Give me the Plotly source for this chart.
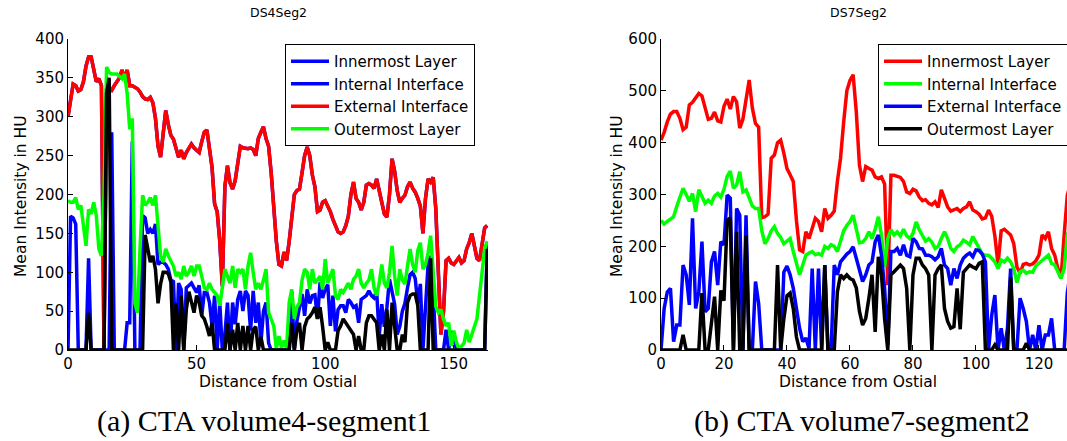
import plotly.graph_objects as go

# ---------------- Left chart: DS4Seg2 (distance 0..163) ----------------
left_x = list(range(0, 164))
left_innermost = [
    0, 172, 170, 162, 0, 0, 0, 0, 118, 0,
    0, 0, 0, 0, 0, 0, 0, 280, 0, 0,
    0, 0, 0, 35, 35, 268, 0, 0, 0, 173,
    170, 150, 155, 150, 162, 110, 113, 113, 110, 104,
    90, 88, 0, 86, 78, 0, 80, 83, 86, 80,
    74, 83, 44, 74, 74, 61, 31, 70, 0, 61,
    0, 20, 61, 0, 61, 33, 65, 76, 50, 76,
    70, 25, 76, 35, 61, 9, 50, 61, 9, 0,
    0, 0, 0, 0, 0, 0, 0, 75, 0, 37,
    52, 72, 44, 78, 60, 70, 71, 40, 87, 67,
    78, 84, 31, 70, 24, 52, 57, 57, 48, 65,
    61, 55, 57, 35, 65, 67, 70, 76, 70, 67,
    76, 18, 59, 30, 55, 91, 75, 59, 20, 30,
    50, 60, 80, 97, 100, 92, 60, 85, 0, 59,
    110, 121, 76, 0, 0, 0, 0, 26, 0, 24,
    18, 0, 0, 0, 0, 0, 0, 0, 0, 0,
    0, 0, 0, 137]
left_external = [
    300, 325, 342, 340, 333, 335, 345, 365, 377, 377,
    360, 345, 349, 340, 0, 335, 336, 334, 340, 345,
    350, 360, 349, 360, 340, 340, 338, 336, 332, 326,
    323, 322, 325, 318, 298, 262, 248, 280, 308, 290,
    276, 271, 260, 248, 257, 246, 254, 260, 265, 260,
    257, 254, 268, 280, 283, 257, 235, 188, 178, 140,
    82, 210, 237, 215, 207, 218, 240, 262, 260, 259,
    259, 260, 258, 250, 272, 280, 287, 272, 262, 228,
    175, 140, 110, 108, 126, 115, 140, 170, 200, 205,
    207, 228, 250, 261, 250, 225, 210, 178, 180, 190,
    192, 185, 178, 168, 160, 152, 150, 152, 160, 172,
    200, 216, 195, 190, 180, 190, 212, 214, 212, 208,
    220, 205, 186, 175, 171, 200, 246, 230, 205, 190,
    195, 199, 210, 216, 208, 203, 195, 185, 150, 195,
    220, 216, 222, 182, 100, 20, 50, 115, 118, 112,
    110, 115, 119, 112, 115, 130, 138, 150, 135, 118,
    115, 140, 157, 160]
left_internal = left_external  # drawn in blue under the red line
left_outermost = [
    192, 190, 190, 196, 181, 186, 160, 134, 181, 175,
    190, 173, 130, 121, 200, 364, 357, 355, 355, 355,
    352, 349, 355, 330, 284, 298, 60, 48, 130, 199,
    186, 190, 196, 186, 199, 164, 121, 113, 130, 121,
    115, 108, 95, 100, 91, 108, 95, 100, 108, 95,
    108, 108, 95, 80, 78, 86, 78, 74, 70, 57,
    78, 104, 95, 86, 108, 80, 104, 100, 104, 78,
    108, 125, 100, 78, 86, 78, 90, 104, 48, 40,
    31, 2, 18, 3, 12, 2, 61, 78, 40, 55,
    61, 90, 104, 100, 78, 104, 86, 90, 95, 78,
    117, 86, 95, 104, 70, 65, 78, 74, 80, 86,
    78, 91, 95, 104, 86, 80, 86, 90, 104, 80,
    70, 86, 110, 86, 80, 100, 134, 95, 70, 104,
    90, 85, 108, 130, 110, 100, 128, 138, 104, 110,
    125, 147, 100, 56, 48, 52, 40, 31, 35, 5,
    25, 10, 1, 5, 9, 26, 10, 20, 31, 40,
    70, 104, 130, 140]
left_black = [
    0, 0, 0, 0, 0, 0, 0, 0, 48, 0,
    0, 0, 0, 0, 0, 330, 350, 0, 0, 0,
    0, 0, 0, 0, 0, 0, 0, 0, 0, 0,
    148, 130, 113, 121, 104, 60, 85, 100, 100, 98,
    87, 0, 60, 0, 70, 0, 52, 75, 61, 48,
    70, 61, 44, 40, 30, 18, 35, 0, 0, 0,
    0, 0, 35, 0, 26, 0, 35, 0, 31, 0,
    31, 0, 26, 30, 0, 17, 0, 0, 0, 0,
    0, 0, 0, 0, 0, 0, 0, 35, 0, 26,
    35, 0, 30, 40, 43, 48, 55, 40, 55, 30,
    0, 10, 0, 0, 0, 25, 31, 40, 35, 30,
    26, 20, 0, 18, 0, 0, 35, 44, 44, 40,
    35, 0, 20, 0, 52, 0, 61, 30, 0, 0,
    20, 10, 61, 70, 72, 72, 57, 0, 0, 0,
    0, 118, 0, 0, 0, 0, 0, 0, 0, 0,
    0, 0, 0, 0, 0, 0, 0, 0, 0, 0,
    0, 0, 0, 130]

# ---------------- Right chart: DS7Seg2 (distance 0..130) ----------------
right_x = list(range(0, 131))
right_innermost = [
    405, 420, 440, 455, 460, 460, 447, 425, 430, 473,
    478, 487, 495, 490, 470, 445, 447, 459, 442, 440,
    470, 484, 465, 489, 479, 428, 445, 480, 521, 467,
    437, 430, 255, 257, 262, 370, 376, 400, 405, 380,
    350, 338, 325, 250, 193, 190, 228, 215, 234, 254,
    248, 228, 273, 254, 260, 268, 325, 370, 440, 500,
    520, 531, 460, 357, 325, 354, 350, 347, 334, 331,
    334, 320, 125, 337, 337, 335, 333, 325, 305, 302,
    310, 307, 295, 288, 290, 283, 280, 286, 275, 309,
    290, 276, 268, 270, 273, 267, 273, 276, 286, 270,
    267, 262, 253, 255, 270, 258, 220, 165, 230, 233,
    228, 222, 205, 160, 148, 165, 167, 164, 166, 172,
    183, 222, 215, 228, 196, 183, 157, 138, 222, 299,
    320]
right_internal = [
    250, 243, 248, 252, 257, 277, 293, 312, 300, 287,
    302, 267, 309, 294, 283, 289, 283, 297, 302, 295,
    310, 335, 345, 312, 318, 344, 305, 309, 293, 278,
    273, 273, 230, 205, 215, 230, 238, 225, 217, 205,
    210, 215, 190, 170, 145, 164, 183, 187, 190, 184,
    186, 183, 200, 196, 203, 200, 190, 210, 230, 240,
    248, 260, 230, 207, 208, 215, 228, 215, 233, 257,
    222, 160, 215, 232, 222, 228, 220, 233, 220, 215,
    225, 247, 232, 220, 210, 215, 208, 196, 200, 215,
    228, 215, 196, 190, 199, 203, 212, 208, 203, 219,
    208, 196, 185, 183, 183, 177, 170, 157, 174, 170,
    177, 170, 157, 130, 151, 154, 148, 151, 150, 162,
    168, 172, 178, 183, 167, 164, 151, 138, 157, 222,
    240]
right_external = [
    0, 80, 112, 119, 16, 48, 48, 164, 145, 87,
    254, 80, 112, 209, 74, 80, 170, 190, 125, 209,
    203, 299, 293, 0, 273, 260, 0, 260, 0, 0,
    132, 90, 0, 0, 0, 0, 0, 0, 0, 150,
    162, 145, 119, 80, 42, 16, 23, 3, 157, 0,
    157, 0, 164, 0, 0, 164, 145, 170, 178, 185,
    190, 199, 177, 154, 132, 145, 164, 170, 209, 222,
    183, 119, 10, 190, 190, 196, 183, 203, 183, 180,
    215, 209, 196, 195, 183, 183, 180, 174, 180, 196,
    164, 157, 125, 157, 138, 164, 177, 183, 187, 180,
    193, 192, 185, 170, 0, 67, 106, 0, 42, 0,
    42, 157, 0, 0, 100, 80, 55, 0, 29, 0,
    48, 0, 29, 29, 61, 0, 0, 0, 0, 110,
    150]
right_outermost = [
    0, 0, 0, 0, 0, 0, 0, 29, 0, 0,
    0, 0, 0, 110, 0, 0, 55, 103, 0, 115,
    95, 250, 255, 0, 228, 0, 0, 222, 0, 0,
    0, 0, 0, 0, 0, 0, 0, 164, 0, 60,
    105, 110, 80, 25, 0, 0, 0, 0, 0, 0,
    0, 0, 164, 0, 0, 0, 112, 145, 138, 145,
    138, 135, 120, 75, 48, 61, 100, 145, 35, 180,
    145, 60, 0, 145, 151, 157, 164, 157, 119, 0,
    145, 177, 177, 164, 157, 145, 0, 145, 157, 164,
    80, 55, 42, 45, 119, 40, 150, 157, 164, 160,
    157, 167, 170, 0, 0, 0, 10, 0, 0, 0,
    0, 140, 0, 0, 0, 0, 13, 0, 0, 0,
    0, 0, 0, 0, 0, 0, 0, 0, 0, 0,
    0]

left_yticks = [0, 50, 100, 150, 200, 250, 300, 350, 400]
left_xticks = [0, 50, 100, 150]
right_yticks = [0, 100, 200, 300, 400, 500, 600]
right_xticks = [0, 20, 40, 60, 80, 100, 120]

RED, GREEN, BLUE, BLACK = "#ff0000", "#00ff00", "#0000ff", "#000000"
LW = 3.5
SANS = "DejaVu Sans, Verdana, sans-serif"
SERIF = "Liberation Serif, Times New Roman, serif"

W, H = 1067, 441
def px(x):
    return x / W
def py(y):
    return 1 - y / H

fig = go.Figure()

# left chart traces (MATLAB plot order)
left_series = [
    ("Innermost Layer", left_innermost, BLUE, True),
    ("Internal Interface", left_internal, BLUE, True),
    ("External Interface", left_external, RED, True),
    ("Outermost Layer", left_outermost, GREEN, True),
    ("", left_black, BLACK, False),
]
for name, ys, col, show in left_series:
    fig.add_trace(go.Scatter(x=left_x, y=ys, mode="lines", name=name,
                             line=dict(color=col, width=LW),
                             showlegend=show, legend="legend",
                             xaxis="x", yaxis="y", hoverinfo="skip"))

right_series = [
    ("Innermost Layer", right_innermost, RED),
    ("Internal Interface", right_internal, GREEN),
    ("External Interface", right_external, BLUE),
    ("Outermost Layer", right_outermost, BLACK),
]
for name, ys, col in right_series:
    fig.add_trace(go.Scatter(x=right_x, y=ys, mode="lines", name=name,
                             line=dict(color=col, width=LW),
                             showlegend=True, legend="legend2",
                             xaxis="x2", yaxis="y2", hoverinfo="skip"))

axis_common = dict(showgrid=False, zeroline=False, showline=True,
                   linecolor="black", linewidth=1, ticks="inside",
                   ticklen=5, tickcolor="black", mirror=False,
                   tickfont=dict(family=SANS, size=15, color="black"))

ydom = [py(350), py(39)]
legend_style = dict(xanchor="left", yanchor="top",
                    bgcolor="white", bordercolor="black", borderwidth=1,
                    font=dict(family=SANS, size=15, color="black"),
                    tracegroupgap=0, traceorder="normal", itemwidth=38)
fig.update_layout(
    width=W, height=H,
    margin=dict(l=0, r=0, t=0, b=0, autoexpand=False),
    paper_bgcolor="white", plot_bgcolor="white",
    xaxis=dict(domain=[px(68), px(488)], range=[0, 163.3],
               tickvals=left_xticks, anchor="y", **axis_common),
    yaxis=dict(domain=ydom, range=[0, 400], tickvals=left_yticks,
               anchor="x", **axis_common),
    xaxis2=dict(domain=[px(661), 1.0], range=[0, 128.9],
                tickvals=right_xticks, anchor="y2", **axis_common),
    yaxis2=dict(domain=ydom, range=[0, 600], tickvals=right_yticks,
                anchor="x2", **axis_common),
    legend=dict(x=px(285), y=py(44), **legend_style),
    legend2=dict(x=px(878), y=py(44), **legend_style),
    showlegend=True,
)

annos = [
    dict(text="DS4Seg2", x=px(278), y=py(13), size=12.5, family=SANS, angle=0),
    dict(text="DS7Seg2", x=px(858), y=py(13), size=12.5, family=SANS, angle=0),
    dict(text="Distance from Ostial", x=px(278), y=py(382), size=15.5, family=SANS, angle=0),
    dict(text="Distance from Ostial", x=px(858), y=py(382), size=15.5, family=SANS, angle=0),
    dict(text="Mean Intensity in HU", x=px(21), y=py(196), size=15.5, family=SANS, angle=-90),
    dict(text="Mean Intensity in HU", x=px(617), y=py(196), size=15.5, family=SANS, angle=-90),
    dict(text="(a) CTA volume4-segment1", x=px(264), y=py(421), size=30,
         family=SERIF, angle=0),
    dict(text="(b) CTA volume7-segment2", x=px(862), y=py(421), size=30,
         family=SERIF, angle=0),
]
for a in annos:
    fig.add_annotation(text=a["text"], x=a["x"], y=a["y"], xref="paper", yref="paper",
                       xanchor="center", yanchor="middle", showarrow=False,
                       textangle=a["angle"],
                       font=dict(family=a["family"], size=a["size"], color="black"))

fig.write_html("out.html")
